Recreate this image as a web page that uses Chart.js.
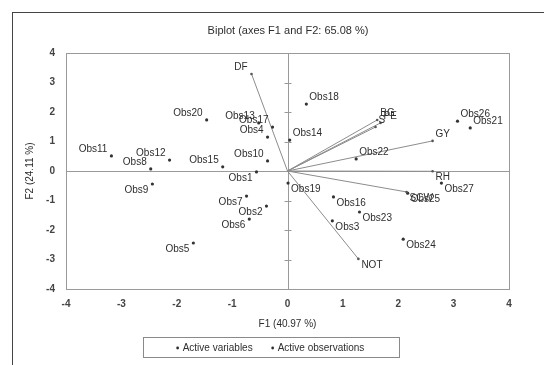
<!DOCTYPE html>
<html>
<head>
<meta charset="utf-8">
<script src="https://cdn.jsdelivr.net/npm/chart.js@4.4.1/dist/chart.umd.min.js"></script>
<style>
  html, body { margin: 0; padding: 0; background: #fff; overflow: hidden; }
  #frame { position: absolute; left: 12px; top: 12px; width: 600px; height: 400px;
           border-left: 1px solid #444; border-top: 1px solid #444; }
  #wrap { position: absolute; left: 0; top: 0; width: 544px; height: 365px; }
</style>
</head>
<body>
<div id="frame"></div>
<div id="wrap"><canvas id="biplot" width="544" height="365"></canvas></div>
<script>
// PCA biplot, F1 vs F2
const obsNames = ['Obs1','Obs2','Obs3','Obs4','Obs5','Obs6','Obs7','Obs8','Obs9','Obs10',
  'Obs11','Obs12','Obs13','Obs14','Obs15','Obs16','Obs17','Obs18','Obs19','Obs20',
  'Obs21','Obs22','Obs23','Obs24','Obs25','Obs26','Obs27'];
const obsF1 = [-0.56, -0.38, 0.81, -0.36, -1.70, -0.69, -0.74, -2.47, -2.44, -0.36,
  -3.18, -2.13, -0.52, 0.04, -1.17, 0.83, -0.27, 0.34, 0.01, -1.46,
  3.30, 1.24, 1.30, 2.09, 2.17, 3.07, 2.78];
const obsF2 = [-0.03, -1.19, -1.69, 1.15, -2.44, -1.63, -0.85, 0.07, -0.44, 0.34,
  0.51, 0.37, 1.63, 1.05, 0.14, -0.88, 1.49, 2.27, -0.41, 1.73,
  1.46, 0.41, -1.39, -2.31, -0.75, 1.69, -0.41];

const varNames = ['DF','BG','PE','S','GY','RH','SCW','NOT'];
const varF1 = [-0.65, 1.62, 1.68, 1.59, 2.62, 2.62, 2.15, 1.28];
const varF2 = [3.29, 1.73, 1.63, 1.49, 1.02, -0.01, -0.71, -2.98];

const tickValues = [-4, -3, -2, -1, 0, 1, 2, 3, 4];

const titleText = 'Biplot (axes F1 and F2: 65.08 %)';
const xTitle = 'F1 (40.97 %)';
const yTitle = 'F2 (24.11 %)';

const FONT = '"Liberation Sans", Arial, sans-serif';
const TEXT = '#2e2e2e';
const LINE = '#8c8c8c';

const obsData = obsNames.map((n, i) => ({ x: obsF1[i], y: obsF2[i], label: n }));
const varData = varNames.map((n, i) => ({ x: varF1[i], y: varF2[i], label: n }));

// box, zero lines, vectors, labels, title and legend
const biplotDecor = {
  id: 'biplotDecor',
  beforeDatasetsDraw(chart) {
    const { ctx, chartArea: a, scales: { x, y } } = chart;
    const x0 = x.getPixelForValue(0), y0 = y.getPixelForValue(0);
    ctx.save();
    ctx.strokeStyle = '#9a9a9a';
    ctx.lineWidth = 1;
    ctx.strokeRect(Math.round(a.left) + 0.5, Math.round(a.top) + 0.5,
      Math.round(a.right - a.left), Math.round(a.bottom - a.top));
    ctx.beginPath();
    ctx.moveTo(Math.round(x0) + 0.5, a.top);
    ctx.lineTo(Math.round(x0) + 0.5, a.bottom);
    ctx.moveTo(a.left, Math.round(y0) + 0.5);
    ctx.lineTo(a.right, Math.round(y0) + 0.5);
    tickValues.forEach(v => {
      const py = Math.round(y.getPixelForValue(v)) + 0.5;
      ctx.moveTo(x0 - 3, py); ctx.lineTo(x0 + 4, py);
    });
    ctx.stroke();
    // variable vectors
    ctx.strokeStyle = LINE;
    ctx.beginPath();
    varData.forEach(d => {
      ctx.moveTo(x0, y0);
      ctx.lineTo(x.getPixelForValue(d.x), y.getPixelForValue(d.y));
    });
    ctx.stroke();
    ctx.restore();
  },
  afterDatasetsDraw(chart) {
    const { ctx, scales: { x, y } } = chart;
    ctx.save();
    ctx.font = '10px ' + FONT;
    ctx.fillStyle = TEXT;
    [...varData, ...obsData].forEach(d => {
      const px = x.getPixelForValue(d.x), py = y.getPixelForValue(d.y);
      const right = d.x >= 0, up = d.y >= 0;
      ctx.textAlign = right ? 'left' : 'right';
      ctx.textBaseline = up ? 'bottom' : 'top';
      ctx.fillText(d.label, px + (right ? 3 : -4), py + (up ? -2 : 1));
    });
    // title
    ctx.font = '11px ' + FONT;
    ctx.textAlign = 'center';
    ctx.textBaseline = 'middle';
    ctx.fillText(titleText, 288, 31);
    // legend
    ctx.font = '10px ' + FONT;
    const items = ['Active variables', 'Active observations'];
    const lx = 143, ly = 337, lw = 256, lh = 20;
    ctx.strokeStyle = '#8a8a8a';
    ctx.strokeRect(lx + 0.5, ly + 0.5, lw, lh);
    ctx.textAlign = 'left';
    const w0 = ctx.measureText(items[0]).width;
    const w1 = ctx.measureText(items[1]).width;
    const gap = 18;
    let cx = lx + (lw - (w0 + w1 + gap + 16)) / 2;
    items.forEach((t, i) => {
      ctx.beginPath();
      ctx.arc(cx + 2, ly + lh / 2 + 1, 1.4, 0, Math.PI * 2);
      ctx.fill();
      ctx.fillText(t, cx + 7, ly + lh / 2 + 1);
      cx += 7 + (i === 0 ? w0 : w1) + gap;
    });
    ctx.restore();
  }
};

const axisTicks = {
  font: { family: FONT, size: 10, weight: 'bold' },
  color: '#444',
  stepSize: 1,
  callback: v => (tickValues.includes(v) ? String(v) : '')
};

new Chart(document.getElementById('biplot'), {
  type: 'scatter',
  data: {
    datasets: [
      { label: 'Active variables', data: varData, pointRadius: 1.3, pointHoverRadius: 1.3,
        backgroundColor: '#555', borderColor: '#555', borderWidth: 0 },
      { label: 'Active observations', data: obsData, pointRadius: 1.6, pointHoverRadius: 1.6,
        backgroundColor: '#333', borderColor: '#333', borderWidth: 0 }
    ]
  },
  options: {
    responsive: false,
    animation: false,
    devicePixelRatio: 1,
    layout: { padding: { left: 20, right: 35, top: 53, bottom: 31 } },
    plugins: { legend: { display: false }, title: { display: false }, tooltip: { enabled: false } },
    scales: {
      x: {
        min: -4, max: 4,
        grid: { display: false, drawTicks: false },
        border: { display: false },
        ticks: { ...axisTicks, padding: 9, maxRotation: 0 },
        title: { display: true, text: xTitle, font: { family: FONT, size: 10 }, color: TEXT, padding: { top: 4 } },
        afterFit: s => { s.height = 45; }
      },
      y: {
        min: -4, max: 4,
        grid: { display: false, drawTicks: false },
        border: { display: false },
        ticks: { ...axisTicks, padding: 11 },
        title: { display: true, text: yTitle, font: { family: FONT, size: 10 }, color: TEXT, padding: { bottom: 2 } },
        afterFit: s => { s.width = 46; }
      }
    }
  },
  plugins: [biplotDecor]
});
</script>
</body>
</html>
